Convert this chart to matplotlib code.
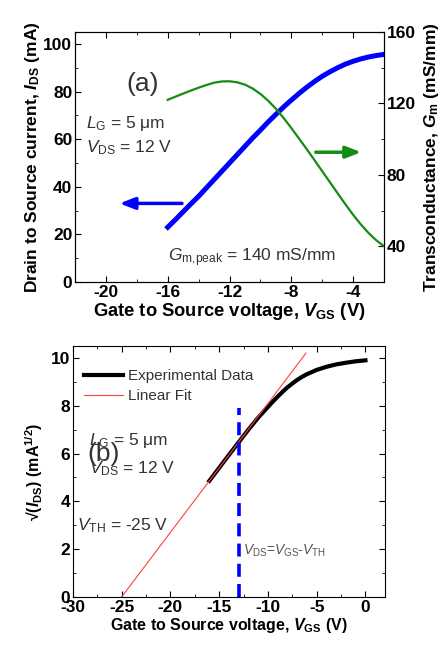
import numpy as np
import matplotlib
matplotlib.use('Agg')
import matplotlib.pyplot as plt
from matplotlib.ticker import MultipleLocator

plt.rcParams['font.family'] = ['Liberation Sans', 'DejaVu Sans']
plt.rcParams['mathtext.fontset'] = 'custom'
plt.rcParams['mathtext.rm'] = 'Liberation Sans'
plt.rcParams['mathtext.it'] = 'Liberation Sans:italic'
plt.rcParams['mathtext.bf'] = 'Liberation Sans:bold'
plt.rcParams['mathtext.bfit'] = 'Liberation Sans:bold:italic'
plt.rcParams['axes.unicode_minus'] = False

# (a) transfer curve and transconductance
vgs_a = [-16, -15.5, -15, -14.5, -14, -13.5, -13, -12.5, -12, -11.5, -11, -10.5, -10,
         -9.5, -9, -8.5, -8, -7.5, -7, -6.5, -6, -5.5, -5, -4.5, -4, -3.5, -3, -2.5, -2]
ids = [23, 26.2, 29.5, 32.8, 36, 39.5, 43, 46.5, 50, 53.5, 57, 60.5, 63.8,
       67.2, 70.4, 73.5, 76.4, 79.2, 81.8, 84.2, 86.4, 88.3, 90, 91.5, 92.7, 93.7, 94.5, 95.1, 95.6]
gm = [122, 123.8, 125.5, 127.2, 128.8, 130.3, 131.6, 132.3, 132.4, 131.8, 130.5, 128.3, 125.3,
      121.5, 117, 111.8, 106.2, 100.3, 94.3, 88.2, 82, 75.8, 69.6, 63.5, 57.6, 52.2, 47.4, 43.3, 40]

# (b) sqrt(IDS) vs VGS
vgs_b = [-16, -15, -14, -13, -12, -11, -10, -9.5, -9, -8.5, -8, -7.5, -7, -6.5, -6,
         -5, -4, -3, -2, -1, 0]
sqrt_ids = [4.86, 5.4, 5.94, 6.47, 7.0, 7.5, 7.95, 8.17, 8.38, 8.58, 8.77, 8.93, 9.08, 9.21, 9.32,
            9.5, 9.63, 9.73, 9.8, 9.86, 9.9]
fit_x = [-25, -6.1]
fit_y = [0, 10.2]
vsat = -13

fig = plt.figure(figsize=(4.44, 6.46), dpi=100)

txt_col = '#333333'
arrow_style = '-|>,head_length=0.9,head_width=0.35'

# ---------- panel (a)
ax1 = fig.add_axes([0.169, 0.5635, 0.696, 0.387])
ax1.plot(vgs_a, ids, color='#0000ff', lw=3.6)
ax1.set_xlim(-22, -2)
ax1.set_ylim(0, 105)
ax1.xaxis.set_major_locator(MultipleLocator(4))
ax1.xaxis.set_minor_locator(MultipleLocator(2))
ax1.yaxis.set_major_locator(MultipleLocator(20))
ax1.yaxis.set_minor_locator(MultipleLocator(10))
ax1.tick_params(which='both', direction='in', top=True, labelsize=12.5, pad=2)
ax1.tick_params(which='major', length=4)
ax1.tick_params(which='minor', length=2)
for lab in ax1.get_xticklabels() + ax1.get_yticklabels():
    lab.set_fontweight('bold')
ax1.set_xlabel(r'Gate to Source voltage, $\mathbfit{V}_{\mathbf{GS}}$ (V)',
               fontsize=13.2, fontweight='bold', labelpad=1)
ax1.set_ylabel(r'Drain to Source current, $\mathbfit{I}_{\mathbf{DS}}$ (mA)',
               fontsize=12.5, fontweight='bold', labelpad=1)

ax2 = ax1.twinx()
ax2.plot(vgs_a, gm, color='#148c14', lw=1.6)
ax2.set_ylim(20, 160)
ax2.yaxis.set_major_locator(MultipleLocator(40))
ax2.yaxis.set_minor_locator(MultipleLocator(20))
ax2.tick_params(which='both', direction='in', labelsize=12.5, pad=2)
ax2.tick_params(which='major', length=4)
ax2.tick_params(which='minor', length=2)
for lab in ax2.get_yticklabels():
    lab.set_fontweight('bold')
ax2.set_ylabel(r'Transconductance, $\mathbfit{G}_{\mathbf{m}}$ (mS/mm)',
               fontsize=12.5, fontweight='bold', labelpad=4)

ax1.annotate('', xy=(-19.3, 33), xytext=(-14.9, 33),
             arrowprops=dict(arrowstyle=arrow_style, color='#0000ff', lw=2.5))
ax1.annotate('', xy=(-3.3, 54.5), xytext=(-6.6, 54.5),
             arrowprops=dict(arrowstyle=arrow_style, color='#148c14', lw=2.5))

ax1.text(-17.6, 83, '(a)', fontsize=19, color=txt_col, ha='center', va='center')
ax1.text(-21.3, 66.5, r'$L_{\mathrm{G}}$ = 5 μm', fontsize=12.5, color=txt_col, va='center')
ax1.text(-21.3, 56.5, r'$V_{\mathrm{DS}}$ = 12 V', fontsize=12.5, color=txt_col, va='center')
ax1.text(-16.0, 10.0, r'$G_{\mathrm{m{,}peak}}$ = 140 mS/mm', fontsize=12.5, color=txt_col,
         va='center')

# ---------- panel (b)
ax3 = fig.add_axes([0.164, 0.0759, 0.703, 0.3885])
ax3.plot(vgs_b, sqrt_ids, color='black', lw=3, label='Experimental Data')
ax3.plot(fit_x, fit_y, color='#ff4040', lw=0.8, label='Linear Fit')
ax3.plot([vsat, vsat], [0, 7.9], color='#0000ff', lw=2.6, linestyle=(0, (3.6, 2.0)))
ax3.set_xlim(-30, 2)
ax3.set_ylim(0, 10.5)
ax3.xaxis.set_major_locator(MultipleLocator(5))
ax3.xaxis.set_minor_locator(MultipleLocator(2.5))
ax3.yaxis.set_major_locator(MultipleLocator(2))
ax3.yaxis.set_minor_locator(MultipleLocator(1))
ax3.tick_params(which='both', direction='in', top=True, right=True, labelsize=12.5, pad=2)
ax3.tick_params(which='major', length=4)
ax3.tick_params(which='minor', length=2)
for lab in ax3.get_xticklabels() + ax3.get_yticklabels():
    lab.set_fontweight('bold')
ax3.set_xlabel(r'Gate to Source voltage, $\mathbfit{V}_{\mathbf{GS}}$ (V)',
               fontsize=11.5, fontweight='bold', labelpad=1)
ax3.set_ylabel(r'√($\mathbfit{I}_{\mathbf{DS}}$) (mA$^{\mathbf{1/2}}$)', fontsize=11.5,
               fontweight='bold', labelpad=4)

leg = ax3.legend(loc='upper left', frameon=False, fontsize=11, handlelength=2.6,
                 handletextpad=0.3, labelspacing=0.38, borderaxespad=0.3,
                 bbox_to_anchor=(0.0, 0.95))
for t in leg.get_texts():
    t.set_color(txt_col)

ax3.text(-28.3, 6.55, r'$L_{\mathrm{G}}$ = 5 μm', fontsize=12.5, color=txt_col, va='center')
ax3.text(-28.3, 5.35, r'$V_{\mathrm{DS}}$ = 12 V', fontsize=12.5, color=txt_col, va='center')
ax3.text(-26.8, 6.0, '(b)', fontsize=19, color=txt_col, ha='center', va='center')
ax3.text(-29.6, 3.0, r'$V_{\mathrm{TH}}$ = -25 V', fontsize=12.5, color=txt_col, va='center')
ax3.text(-12.6, 1.95, r'$V_{\mathrm{DS}}$=$V_{\mathrm{GS}}$-$V_{\mathrm{TH}}$', fontsize=10,
         color='#555555', va='center')

plt.savefig('out.png', dpi=100)
